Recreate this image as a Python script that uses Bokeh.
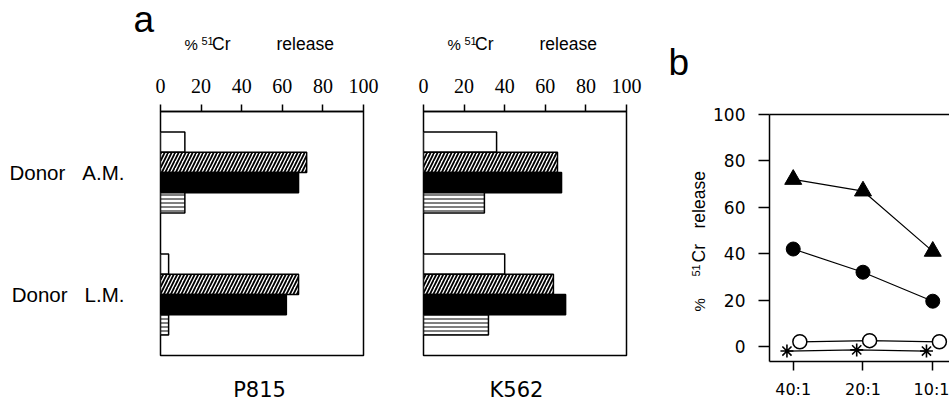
import math
from bokeh.plotting import figure
from bokeh.layouts import row, column
from bokeh.models import ColumnDataSource, Range1d, FactorRange, FixedTicker, LinearAxis
from bokeh.core.properties import value
from bokeh.transform import dodge
from bokeh.embed import file_html
from bokeh.resources import INLINE

# ---------------- data ----------------
donors = ["Donor A.M.", "Donor L.M."]
x_ticks_a = [0, 20, 40, 60, 80, 100]
targets = ["P815", "K562"]

p815_open = [12, 4]
p815_hatched = [72, 68]
p815_solid = [68, 62]
p815_striped = [12, 4]

k562_open = [36, 40]
k562_hatched = [66, 64]
k562_solid = [68, 70]
k562_striped = [30, 32]

ratios = ["40:1", "20:1", "10:1"]
y_ticks_b = [0, 20, 40, 60, 80, 100]
b_triangle = [72, 67, 41]
b_circle = [42, 32, 19.5]
b_open = [2, 2.5, 2]
b_asterisk = [-2, -1.5, -2]

# ---------------- styles ----------------
SANS = "Liberation Sans"
SERIF = "Liberation Serif"
WIDE = "DejaVu Sans"
BAR_H = 0.166
BASE = 0.37  # alphabetic-baseline correction of text glyphs, in em
factors = [d.replace(" ", "\u00a0\u00a0\u00a0") for d in donors]

bar_styles = [
    dict(fill_color="white"),
    dict(fill_color="white", hatch_pattern="right_diagonal_line", hatch_scale=7,
         hatch_weight=1.8, hatch_color="black"),
    dict(fill_color="black"),
    dict(fill_color="white", hatch_pattern="horizontal_line", hatch_scale=4,
         hatch_weight=1, hatch_color="black"),
]


def strip(width, height, x0, y0):
    """Text-only strip whose frame fills the whole canvas (page pixel coordinates)."""
    p = figure(width=width, height=height, x_range=Range1d(x0, x0 + width),
               y_range=Range1d(y0 + height, y0), output_backend="svg", toolbar_location=None,
               min_border=0, outline_line_color=None, x_axis_location=None, y_axis_location=None)
    p.grid.visible = False
    return p


def put_text(p, xs, ys, texts, size, font=SANS, align="left", angle=0.0):
    """ys / xs given as the wanted baseline; corrected for the glyph's baseline offset."""
    off = BASE * size
    if angle:
        xs = [x - off for x in xs]
    else:
        ys = [y - off for y in ys]
    p.text(x=xs, y=ys, text=texts, text_font=value(font), text_font_size=f"{size}px",
           text_color="black", text_align=align, text_baseline="alphabetic", angle=angle)


def bar_panel(series, width, mb_left, mb_right, show_y):
    yr = FactorRange(factors=factors[::-1], range_padding=0)
    p = figure(width=width, height=316, y_range=yr, x_range=Range1d(0, 100),
               x_axis_location="above", output_backend="svg", toolbar_location=None,
               min_border_left=mb_left, min_border_right=mb_right,
               min_border_top=55, min_border_bottom=17,
               outline_line_color="black", outline_line_width=1.5, outline_line_alpha=1)
    p.xgrid.visible = False
    p.ygrid.visible = False
    ax = p.xaxis[0]
    ax.ticker = FixedTicker(ticks=x_ticks_a)
    ax.major_tick_out = 7
    ax.major_tick_in = 0
    ax.minor_tick_line_color = None
    ax.axis_line_width = 1.5
    ax.major_tick_line_width = 1.5
    ax.major_label_text_font = SERIF
    ax.major_label_text_font_size = "20px"
    ax.major_label_text_color = "black"
    ax.major_label_standoff = 12
    ya = p.yaxis[0]
    if show_y:
        ya.axis_line_color = None
        ya.major_tick_line_color = None
        ya.major_tick_out = 0
        ya.major_tick_in = 0
        ya.major_label_standoff = 36
        ya.major_label_text_font = SANS
        ya.major_label_text_font_size = "20.5px"
        ya.major_label_text_color = "black"
    else:
        ya.visible = False

    for i, (vals, st) in enumerate(zip(series, bar_styles)):
        src = ColumnDataSource(dict(donor=factors, value=vals))
        p.hbar(y=dodge("donor", (1.5 - i) * BAR_H, range=yr), left=0, right="value",
               height=BAR_H, source=src, line_color="black", line_width=1.5, **st)
    return p


# ---------------- panel a ----------------
top_a = strip(650, 56, 0, 0)
put_text(top_a, [133], [32.7], ["a"], 37)
for fl in (160, 423):
    put_text(top_a, [fl + 24], [50], ["%"], 15)
    put_text(top_a, [fl + 51.5, fl + 116], [50, 50], ["Cr", "release"], 17.5)
    put_text(top_a, [fl + 41], [45], ["51"], 11)

pa1 = bar_panel([p815_open, p815_hatched, p815_solid, p815_striped], 392, 160, 29, True)
pa2 = bar_panel([k562_open, k562_hatched, k562_solid, k562_striped], 258, 31, 24, False)
bottom_a = strip(650, 29, 0, 372)
put_text(bottom_a, [259, 516], [397, 397], targets, 21, font=WIDE, align="center")

# ---------------- panel b ----------------
b_lab = strip(60, 401, 650, 0)
put_text(b_lab, [668], [76], ["b"], 37)
rot = math.pi / 2
put_text(b_lab, [705], [311], ["%"], 15, angle=rot)
put_text(b_lab, [705, 705], [262, 228], ["Cr", "release"], 17.5, angle=rot)
put_text(b_lab, [699.5], [276], ["51"], 11, angle=rot)

xi = list(range(len(ratios)))
pb = figure(width=239, height=401, x_range=Range1d(-0.34, 2.24), y_range=Range1d(-6.5, 100),
            output_backend="svg", toolbar_location=None,
            min_border_left=59, min_border_right=0, min_border_top=114, min_border_bottom=40,
            outline_line_color=None)
pb.xgrid.visible = False
pb.ygrid.visible = False
bx = pb.xaxis[0]
bx.ticker = FixedTicker(ticks=xi)
bx.major_label_overrides = {i: r for i, r in zip(xi, ratios)}
bx.major_tick_out = 9
bx.major_tick_in = 0
bx.minor_tick_line_color = None
bx.axis_line_width = 1.5
bx.major_tick_line_width = 1.5
bx.major_label_text_font = WIDE
bx.major_label_text_font_size = "16px"
bx.major_label_text_color = "black"
bx.major_label_standoff = 9
by = pb.yaxis[0]
by.ticker = FixedTicker(ticks=y_ticks_b)
by.major_tick_out = 11
by.major_tick_in = 0
by.minor_tick_line_color = None
by.axis_line_width = 1.5
by.major_tick_line_width = 1.5
by.major_label_text_font = WIDE
by.major_label_text_font_size = "17px"
by.major_label_text_color = "black"
by.major_label_standoff = 13
top_axis = LinearAxis(ticker=FixedTicker(ticks=[]), major_tick_line_color=None,
                      minor_tick_line_color=None, major_tick_out=0, major_tick_in=0,
                      axis_line_width=1.5)
pb.add_layout(top_axis, "above")

src_b = ColumnDataSource(dict(x=xi, tri=b_triangle, cir=b_circle, opn=b_open, ast=b_asterisk))
pb.line("x", "tri", source=src_b, line_color="black", line_width=1.2)
pb.line("x", "cir", source=src_b, line_color="black", line_width=1.2)
pb.line(dodge("x", -0.09), "ast", source=src_b, line_color="black", line_width=1.2)
pb.line(dodge("x", 0.095), "opn", source=src_b, line_color="black", line_width=1.2)
pb.scatter("x", "tri", source=src_b, marker="triangle", size=17, fill_color="black", line_color="black")
pb.scatter("x", "cir", source=src_b, marker="circle", size=14, fill_color="black", line_color="black")
pb.scatter(dodge("x", -0.09), "ast", source=src_b, marker="asterisk", size=13,
           line_color="black", line_width=1.6)
pb.scatter(dodge("x", 0.095), "opn", source=src_b, marker="circle", size=14, fill_color="white",
           line_color="black", line_width=1.5)

layout = row(column(top_a, row(pa1, pa2), bottom_a), column(b_lab), pb)
open("out.html", "w").write(file_html(layout, INLINE))
